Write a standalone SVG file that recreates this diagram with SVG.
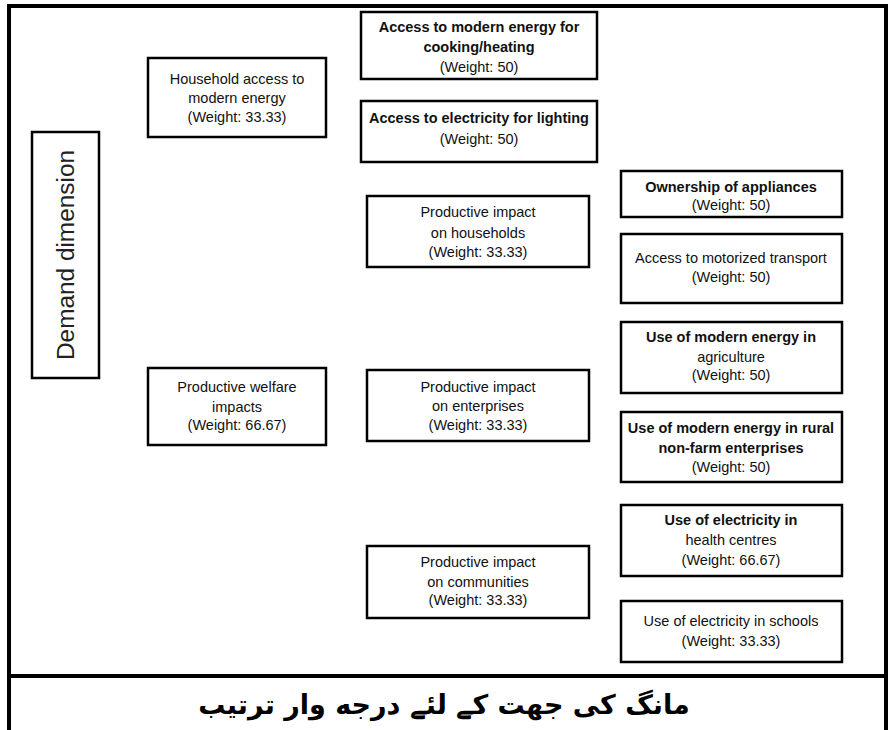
<svg xmlns="http://www.w3.org/2000/svg" width="888" height="730" viewBox="0 0 888 730">
<style>
.frame{fill:none;stroke:#000;stroke-width:4}
.box{fill:#fff;stroke:#000;stroke-width:2.5}
text{font-family:"Liberation Sans",Arial,sans-serif;font-size:14.5px;fill:#111;text-anchor:middle}
.b{font-weight:bold;font-size:14.5px}
.dim{font-size:23px;fill:#222}
.ur{font-family:"DejaVu Sans","Noto Sans",sans-serif;font-size:27px;font-weight:bold;fill:#000}
</style>
<rect x="0" y="0" width="888" height="730" fill="#fff"/>
<g id="frame">
<path class="frame" d="M9,730 V6 H886 V730 M9,676 H886"/>
</g>
<g id="connectors"></g>
<g id="demand">
<rect class="box" x="32" y="132" width="67" height="246"/>
<text class="dim" transform="translate(74,255) rotate(-90)" textLength="210" lengthAdjust="spacingAndGlyphs">Demand dimension</text>
</g>
<g id="household-access">
<rect class="box" x="148" y="58" width="178" height="79"/>
<text x="237" y="84">Household access to</text>
<text x="237" y="103">modern energy</text>
<text x="237" y="122">(Weight: 33.33)</text>
</g>
<g id="productive-welfare">
<rect class="box" x="148" y="368" width="178" height="77"/>
<text x="237" y="392">Productive welfare</text>
<text x="237" y="412">impacts</text>
<text x="237" y="430">(Weight: 66.67)</text>
</g>
<g id="cooking">
<rect class="box" x="361" y="12" width="236" height="67"/>
<text class="b" x="479" y="32">Access to modern energy for</text>
<text class="b" x="479" y="52">cooking/heating</text>
<text x="479" y="72">(Weight: 50)</text>
</g>
<g id="lighting">
<rect class="box" x="361" y="101" width="236" height="61"/>
<text class="b" x="479" y="123">Access to electricity for lighting</text>
<text x="479" y="144">(Weight: 50)</text>
</g>
<g id="impact-households">
<rect class="box" x="367" y="196" width="222" height="71"/>
<text x="478" y="217">Productive impact</text>
<text x="478" y="238">on households</text>
<text x="478" y="257">(Weight: 33.33)</text>
</g>
<g id="impact-enterprises">
<rect class="box" x="367" y="370" width="222" height="71"/>
<text x="478" y="392">Productive impact</text>
<text x="478" y="411">on enterprises</text>
<text x="478" y="430">(Weight: 33.33)</text>
</g>
<g id="impact-communities">
<rect class="box" x="367" y="546" width="222" height="72"/>
<text x="478" y="567">Productive impact</text>
<text x="478" y="587">on communities</text>
<text x="478" y="605">(Weight: 33.33)</text>
</g>
<g id="appliances">
<rect class="box" x="621" y="171" width="221" height="46"/>
<text class="b" x="731" y="192">Ownership of appliances</text>
<text x="731" y="210">(Weight: 50)</text>
</g>
<g id="transport">
<rect class="box" x="621" y="234" width="221" height="69"/>
<text x="731" y="263">Access to motorized transport</text>
<text x="731" y="282">(Weight: 50)</text>
</g>
<g id="agriculture">
<rect class="box" x="621" y="322" width="221" height="71"/>
<text class="b" x="731" y="342">Use of modern energy in</text>
<text x="731" y="362">agriculture</text>
<text x="731" y="380">(Weight: 50)</text>
</g>
<g id="rural-enterprises">
<rect class="box" x="621" y="412" width="221" height="70"/>
<text class="b" x="731" y="433">Use of modern energy in rural</text>
<text class="b" x="731" y="453">non-farm enterprises</text>
<text x="731" y="472">(Weight: 50)</text>
</g>
<g id="health">
<rect class="box" x="621" y="505" width="221" height="71"/>
<text class="b" x="731" y="525">Use of electricity in</text>
<text x="731" y="545">health centres</text>
<text x="731" y="565">(Weight: 66.67)</text>
</g>
<g id="schools">
<rect class="box" x="621" y="601" width="221" height="61"/>
<text x="731" y="626">Use of electricity in schools</text>
<text x="731" y="646">(Weight: 33.33)</text>
</g>
<g id="caption">
<text class="ur" x="444" y="714" direction="rtl">مانگ کی جهت کے لئے درجه وار ترتیب</text>
</g>
</svg>
